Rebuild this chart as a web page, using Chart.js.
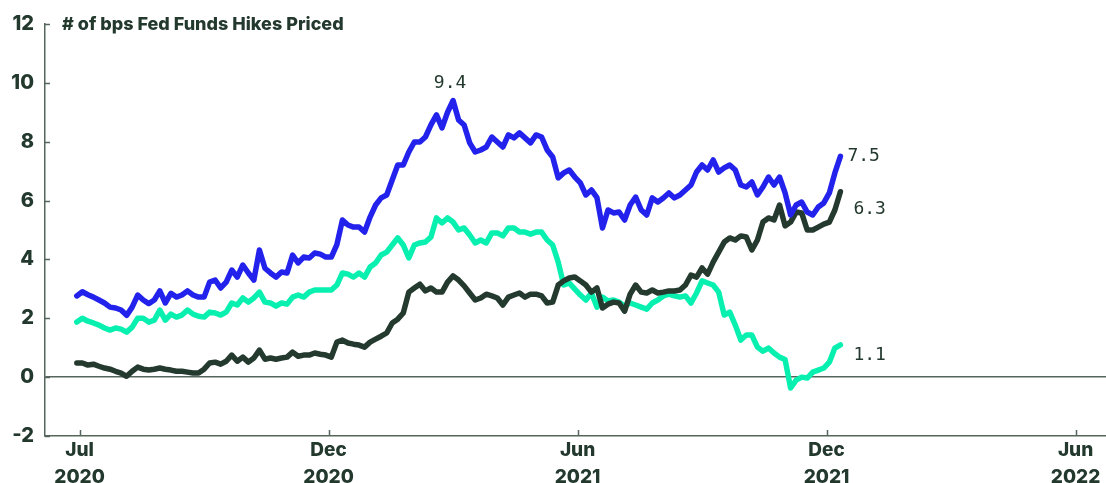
<!DOCTYPE html>
<html>
<head>
<meta charset="utf-8">
<script src="https://cdn.jsdelivr.net/npm/chart.js@4/dist/chart.umd.min.js"></script>
<style>
  body { margin: 0; background: #fff; }
  #wrap { width: 1106px; height: 483px; position: relative; }
</style>
</head>
<body>
<div id="wrap"><canvas id="hikes"></canvas></div>
<script>
// days since 1 Jul 2020, one sample every 4 days
const days = [
  -2, 2, 6, 10, 14, 18, 22, 26, 30, 34, 38, 42, 46, 50, 54, 58, 62, 66, 70, 74,
  78, 82, 86, 90, 94, 98, 102, 106, 110, 114, 118, 122, 126, 130, 134, 138, 142, 146, 150, 154,
  158, 162, 166, 170, 174, 178, 182, 186, 190, 194, 198, 202, 206, 210, 214, 218, 222, 226, 230, 234,
  238, 242, 246, 250, 254, 258, 262, 266, 270, 274, 278, 282, 286, 290, 294, 298, 302, 306, 310, 314,
  318, 322, 326, 330, 334, 338, 342, 346, 350, 354, 358, 362, 366, 370, 374, 378, 382, 386, 390, 394,
  398, 402, 406, 410, 414, 418, 422, 426, 430, 434, 438, 442, 446, 450, 454, 458, 462, 466, 470, 474,
  478, 482, 486, 490, 494, 498, 502, 506, 510, 514, 518, 522, 526, 530, 534, 538, 542, 546, 550
];

const blueHikes = [
  2.76, 2.9, 2.8, 2.72, 2.62, 2.52, 2.38, 2.35, 2.28, 2.1, 2.38, 2.79, 2.62, 2.5, 2.62, 2.93, 2.52, 2.85, 2.72, 2.79,
  2.93, 2.79, 2.72, 2.72, 3.23, 3.3, 3.03, 3.23, 3.64, 3.4, 3.81, 3.54, 3.3, 4.32, 3.7, 3.54, 3.4, 3.57, 3.54, 4.15,
  3.88, 4.08, 4.05, 4.22, 4.18, 4.08, 4.08, 4.5, 5.34, 5.17, 5.1, 5.1, 4.93, 5.44, 5.85, 6.09, 6.19, 6.7, 7.21, 7.21,
  7.65, 7.99, 7.99, 8.16, 8.57, 8.91, 8.47, 9.0, 9.4, 8.74, 8.57, 7.96, 7.65, 7.72, 7.82, 8.16, 7.99, 7.82, 8.23, 8.13,
  8.3, 8.13, 7.96, 8.23, 8.16, 7.72, 7.48, 6.77, 6.94, 7.04, 6.8, 6.6, 6.19, 6.36, 6.1, 5.07, 5.68, 5.58, 5.61, 5.34,
  5.85, 6.12, 5.68, 5.51, 6.09, 5.95, 6.09, 6.26, 6.09, 6.19, 6.36, 6.53, 6.97, 7.21, 7.04, 7.38, 6.97, 7.11, 7.21, 7.04,
  6.53, 6.46, 6.63, 6.19, 6.46, 6.8, 6.53, 6.8, 6.26, 5.51, 5.85, 5.95, 5.61, 5.51, 5.78, 5.92, 6.26, 6.94, 7.5
];

const tealHikes = [
  1.87, 2.0, 1.9, 1.84, 1.77, 1.67, 1.6, 1.67, 1.63, 1.53, 1.7, 2.0, 2.0, 1.87, 1.94, 2.28, 1.94, 2.14, 2.04, 2.11,
  2.28, 2.14, 2.07, 2.04, 2.21, 2.18, 2.11, 2.21, 2.52, 2.45, 2.69, 2.55, 2.69, 2.89, 2.55, 2.52, 2.41, 2.52, 2.48, 2.72,
  2.79, 2.72, 2.89, 2.96, 2.96, 2.96, 2.96, 3.13, 3.54, 3.5, 3.4, 3.54, 3.4, 3.74, 3.88, 4.15, 4.25, 4.49, 4.73, 4.49,
  4.05, 4.49, 4.56, 4.59, 4.76, 5.41, 5.24, 5.41, 5.27, 5.0, 5.07, 4.83, 4.56, 4.66, 4.56, 4.9, 4.9, 4.8, 5.07, 5.07,
  4.93, 4.93, 4.86, 4.93, 4.93, 4.66, 4.49, 3.91, 3.13, 3.2, 2.99, 2.79, 2.62, 2.86, 2.38, 2.72, 2.59, 2.62, 2.55, 2.41,
  2.52, 2.45, 2.38, 2.31, 2.52, 2.62, 2.76, 2.82, 2.76, 2.72, 2.76, 2.52, 2.86, 3.27, 3.2, 3.13, 2.89, 2.11, 2.21, 1.77,
  1.26, 1.43, 1.43, 1.02, 0.88, 0.99, 0.82, 0.68, 0.6, -0.37, -0.1, 0.0, -0.03, 0.17, 0.24, 0.31, 0.51, 0.99, 1.1
];

const darkHikes = [
  0.48, 0.48, 0.41, 0.44, 0.37, 0.31, 0.27, 0.2, 0.14, 0.03, 0.2, 0.34, 0.27, 0.24, 0.27, 0.31, 0.27, 0.24, 0.2, 0.2,
  0.17, 0.14, 0.14, 0.27, 0.48, 0.51, 0.44, 0.54, 0.75, 0.54, 0.68, 0.51, 0.65, 0.92, 0.61, 0.65, 0.61, 0.65, 0.68, 0.85,
  0.71, 0.75, 0.75, 0.82, 0.78, 0.75, 0.68, 1.19, 1.26, 1.16, 1.12, 1.09, 1.02, 1.19, 1.29, 1.39, 1.5, 1.84, 1.97, 2.18,
  2.89, 3.03, 3.16, 2.93, 3.03, 2.89, 2.89, 3.23, 3.44, 3.3, 3.1, 2.86, 2.62, 2.69, 2.82, 2.76, 2.69, 2.45, 2.72, 2.79,
  2.86, 2.72, 2.82, 2.82, 2.76, 2.52, 2.55, 3.13, 3.27, 3.37, 3.4, 3.27, 3.13, 2.89, 3.03, 2.35, 2.48, 2.55, 2.52, 2.24,
  2.82, 3.13, 2.89, 2.86, 2.96, 2.86, 2.89, 2.93, 2.93, 2.96, 3.13, 3.47, 3.4, 3.71, 3.5, 3.91, 4.25, 4.59, 4.73, 4.66,
  4.8, 4.76, 4.32, 4.66, 5.27, 5.41, 5.34, 5.85, 5.14, 5.27, 5.61, 5.58, 5.0, 5.0, 5.1, 5.2, 5.27, 5.68, 6.3
];

const tickDays = [0, 180, 360, 540, 720];
const tickMonths = ['Jul', 'Dec', 'Jun', 'Dec', 'Jun'];
const tickYears = ['2020', '2020', '2021', '2021', '2022'];

const ink = '#23392e';
const axisColor = '#56665c';

function points(values) {
  return values.map((v, i) => ({x: days[i], y: v}));
}

// short tick marks pointing into the plot
const tickMarks = {
  id: 'tickMarks',
  afterDraw(chart) {
    const {ctx, chartArea, scales: {x, y}} = chart;
    ctx.save();
    ctx.strokeStyle = axisColor;
    ctx.lineWidth = 1.5;
    ctx.beginPath();
    y.ticks.forEach(t => {
      const py = Math.round(y.getPixelForValue(t.value)) + 0.5;
      ctx.moveTo(chartArea.left, py);
      ctx.lineTo(chartArea.left + 5, py);
    });
    x.ticks.forEach(t => {
      const px = Math.round(x.getPixelForValue(t.value)) + 0.5;
      ctx.moveTo(px, chartArea.bottom);
      ctx.lineTo(px, chartArea.bottom - 6);
    });
    ctx.stroke();
    ctx.restore();
  }
};

// title plus the value labels at the peak and at the line ends
const annotations = {
  id: 'annotations',
  afterDatasetsDraw(chart) {
    const {ctx, chartArea} = chart;
    ctx.save();
    ctx.fillStyle = ink;
    ctx.font = '800 18px Inter';
    ctx.textAlign = 'left';
    ctx.textBaseline = 'middle';
    ctx.fillText('# of bps Fed Funds Hikes Priced', chartArea.left + 17, chartArea.top + 1);

    ctx.font = '18px "DejaVu Sans Mono"';
    chart.data.datasets.forEach((ds, di) => {
      const meta = chart.getDatasetMeta(di);
      const last = ds.data.length - 1;
      const end = meta.data[last];
      ctx.textAlign = 'left';
      ctx.fillText(ds.data[last].y.toFixed(1), end.x + ds.endLabel.dx, end.y + ds.endLabel.dy);
      if (ds.peakLabel) {
        let top = 0;
        ds.data.forEach((p, i) => { if (p.y > ds.data[top].y) top = i; });
        const pk = meta.data[top];
        ctx.textAlign = 'center';
        ctx.fillText(ds.data[top].y.toFixed(1), pk.x + ds.peakLabel.dx, pk.y + ds.peakLabel.dy);
      }
    });
    ctx.restore();
  }
};

Chart.defaults.font.family = 'Inter';
Chart.defaults.color = ink;

let chart = new Chart(document.getElementById('hikes'), {
  type: 'line',
  data: {
    datasets: [
      {
        data: points(blueHikes),
        borderColor: '#2222ec',
        order: 0,
        endLabel: {dx: 7, dy: 0},
        peakLabel: {dx: -3, dy: -17}
      },
      {
        data: points(darkHikes),
        borderColor: '#243a2e',
        order: 1,
        endLabel: {dx: 13, dy: 18}
      },
      {
        data: points(tealHikes),
        borderColor: '#08f0b0',
        order: 2,
        endLabel: {dx: 13, dy: 11}
      }
    ]
  },
  options: {
    responsive: true,
    maintainAspectRatio: false,
    animation: false,
    layout: { padding: {top: 24, right: 0, left: 0, bottom: 0} },
    elements: {
      line: { borderWidth: 5.5, tension: 0, borderJoinStyle: 'round', borderCapStyle: 'round' },
      point: { radius: 0 }
    },
    plugins: {
      legend: { display: false },
      tooltip: { enabled: false }
    },
    scales: {
      x: {
        type: 'linear',
        min: -25,
        max: 742,
        afterBuildTicks: scale => { scale.ticks = tickDays.map(v => ({value: v})); },
        afterFit: scale => { scale.height = 47; },
        grid: { color: 'transparent', drawTicks: false },
        border: { display: true, color: axisColor, width: 1.5 },
        ticks: {
          padding: 1,
          maxRotation: 0,
          font: { size: 19, weight: '800', lineHeight: 1.4 },
          callback: value => {
            const i = tickDays.indexOf(value);
            return i < 0 ? '' : [tickMonths[i], tickYears[i]];
          }
        }
      },
      y: {
        min: -2,
        max: 12,
        afterFit: scale => { scale.width = 45; },
        grid: {
          drawTicks: false,
          lineWidth: 1.5,
          color: c => (c.tick && c.tick.value === 0) ? axisColor : 'transparent'
        },
        border: { display: true, color: axisColor, width: 1.5 },
        ticks: {
          stepSize: 2,
          padding: 11,
          font: { size: 20, weight: '800' }
        }
      }
    }
  },
  plugins: [tickMarks, annotations]
});
</script>
</body>
</html>
